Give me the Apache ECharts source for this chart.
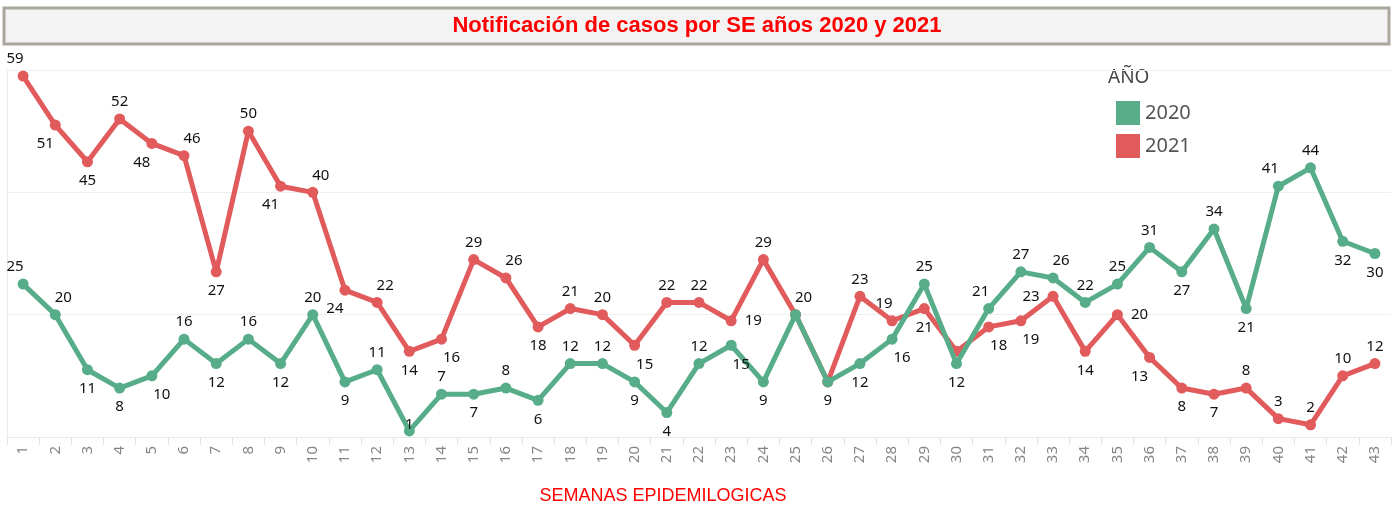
<!DOCTYPE html>
<html><head><meta charset="utf-8">
<script src="https://cdn.jsdelivr.net/npm/echarts@6/dist/echarts.min.js"></script>
<style>html,body{margin:0;padding:0;background:#fff}#c{width:1394px;height:508px}</style>
</head><body><div id="c"></div>
<script>
const weeks = Array.from({length:43},(_,i)=>String(i+1));
const cases2020 = [25,20,11,8,10,16,12,16,12,20,9,11,1,7,7,8,6,12,12,9,4,12,15,9,20,9,12,16,25,12,21,27,26,22,25,31,27,34,21,41,44,32,30];
const cases2021 = [59,51,45,52,48,46,27,50,41,40,24,22,14,16,29,26,18,21,20,15,22,22,19,29,20,9,23,19,21,14,18,19,23,14,20,13,8,7,8,3,2,10,12];
const labelPlace2020 = ['tl','tr','b','b','br','t','b','t','b','t','b','t','c','t','b','t','b','t','t','b','b','t','br','b','tr','b','b','br','t','b','tl','t','tr','t','t','t','b','t','b','tl','t','b','b'];
const labelPlace2021 = ['tl','bl','b','t','bl','tr','b','t','bl','tr','bl','tr','b','br','t','tr','b','t','t','br','t','t','r','t','n','n','t','tl','b','n','br','br','l','b','r','bl','b','b','t','t','t','t','t'];
const years = ['2020','2021'];
const colors = ['#57ad89','#e15a5c'];

function lab(code){
  const m = {
    t:{position:'top',offset:[0,2]}, b:{position:'bottom',offset:[0,0]},
    tl:{position:'top',offset:[-8,2]}, tr:{position:'top',offset:[8,2]},
    bl:{position:'bottom',offset:[-10,0]}, br:{position:'bottom',offset:[10,0]},
    r:{position:'right',offset:[2,0]}, l:{position:'left',offset:[-2,0]},
    c:{position:'inside',offset:[0,-6]}
  };
  if(code==='n') return {show:false};
  return Object.assign({show:true}, m[code]);
}
function build(vals, places){
  return vals.map((v,i)=>({value:v,label:lab(places[i])}));
}
const chart = echarts.init(document.getElementById('c'));
chart.setOption({
  animation:false,
  graphic:[
    {type:'rect',shape:{x:4,y:8,width:1385,height:36},style:{fill:'#f3f3f3',stroke:'#aaa69b',lineWidth:3}},
    {type:'text',x:697,y:26,style:{text:'Notificación de casos por SE años 2020 y 2021',fill:'#ff0000',font:'bold 22px "Liberation Sans", Arial',align:'center',verticalAlign:'middle'}},
    {type:'text',x:1108,y:78,style:{text:'AÑO',fill:'#444',font:'19px "Noto Sans"',verticalAlign:'middle'}},
    {type:'text',x:663,y:496,style:{text:'SEMANAS EPIDEMILOGICAS',fill:'#ff0000',font:'18px "Liberation Sans", Arial',align:'center',verticalAlign:'middle'}}
  ],
  legend:{
    orient:'vertical',left:1111,top:96,itemWidth:24,itemHeight:24,itemGap:9,
    icon:'rect',data:years,
    textStyle:{fontSize:20,color:'#555',fontFamily:'Noto Sans',padding:[0,0,0,0]}
  },
  grid:{left:7,right:3,top:70,bottom:71,containLabel:false,outerBoundsMode:'none'},
  xAxis:{
    type:'category',data:weeks,boundaryGap:true,
    axisLine:{lineStyle:{color:'#e8e8e8'}},
    axisTick:{show:true,length:8,lineStyle:{color:'#e3e3e3'}},
    axisLabel:{rotate:90,color:'#858585',fontSize:15,fontFamily:'Noto Sans',margin:9},
    splitLine:{show:false}
  },
  yAxis:{
    type:'value',min:0,max:60,interval:20,
    axisLabel:{show:false},
    axisLine:{show:true,lineStyle:{color:'#ececec'}},
    axisTick:{show:false},
    splitLine:{lineStyle:{color:'#efefef',width:1}}
  },
  series:[
    {name:years[0],type:'line',data:build(cases2020,labelPlace2020),color:colors[0],
     lineStyle:{width:5},symbol:'circle',symbolSize:11,z:3,
     label:{color:'#111',fontSize:15,fontFamily:'Noto Sans',distance:6}},
    {name:years[1],type:'line',data:build(cases2021,labelPlace2021),color:colors[1],
     lineStyle:{width:5},symbol:'circle',symbolSize:11,z:2,
     label:{color:'#111',fontSize:15,fontFamily:'Noto Sans',distance:6}}
  ]
});
</script></body></html>
